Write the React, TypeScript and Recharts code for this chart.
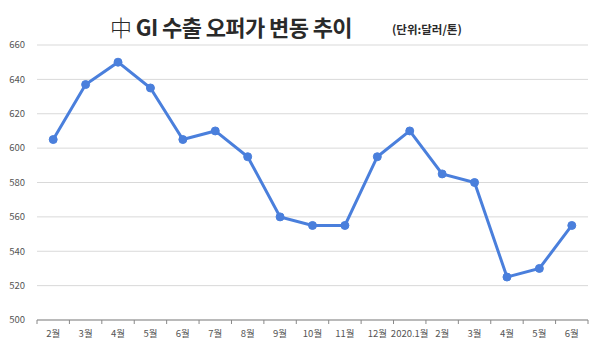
import React from 'react';
import { LineChart, Line, XAxis, YAxis, CartesianGrid } from 'recharts';

const categories = ['2월', '3월', '4월', '5월', '6월', '7월', '8월', '9월', '10월', '11월', '12월', '2020.1월', '2월', '3월', '4월', '5월', '6월'];
const prices = [605, 637, 650, 635, 605, 610, 595, 560, 555, 555, 595, 610, 585, 580, 525, 530, 555];
const yTicks = [500, 520, 540, 560, 580, 600, 620, 640, 660];

const data = categories.map((c, i) => ({ key: i, label: c, price: prices[i] }));

const W = 600;
const H = 351;
const M = { top: 45, right: 12, left: 0, bottom: 11 };
const Y_W = 37;
const BAND = (W - M.left - M.right - Y_W) / categories.length;
const FONT = '"Noto Sans CJK KR", "Noto Sans", sans-serif';

const XTick = (props: any) => {
  const { x, y, payload } = props;
  const isLast = payload.value === categories.length - 1;
  return (
    <g>
      <line x1={x - BAND / 2} x2={x - BAND / 2} y1={y - 8} y2={y - 4} stroke="#888" strokeWidth={1} />
      {isLast && (
        <line x1={x + BAND / 2} x2={x + BAND / 2} y1={y - 8} y2={y - 4} stroke="#888" strokeWidth={1} />
      )}
      <text x={x} y={y + 9} textAnchor="middle" fontSize={9.5} fill="#555" fontFamily={FONT}>
        {categories[payload.value]}
      </text>
    </g>
  );
};

export default function App() {
  return (
    <div style={{ position: 'absolute', left: 0, top: 0, width: W, height: H, background: '#fff', fontFamily: FONT }}>
      <div
        style={{
          position: 'absolute',
          left: 110,
          top: 9,
          fontSize: 22,
          fontWeight: 700,
          color: '#2a2a2a',
          whiteSpace: 'nowrap',
          lineHeight: '34px',
          letterSpacing: -0.6,
        }}
      >
        <span style={{ fontWeight: 300 }}>中</span> GI 수출 오퍼가 변동 추이
      </div>
      <div
        style={{
          position: 'absolute',
          left: 392,
          top: 19,
          fontSize: 11.5,
          fontWeight: 700,
          color: '#2a2a2a',
          whiteSpace: 'nowrap',
          lineHeight: '20px',
        }}
      >
        (단위:달러/톤)
      </div>
      <div style={{ position: 'absolute', left: 0, top: 0 }}>
        <LineChart width={W} height={H} data={data} margin={M}>
          <CartesianGrid vertical={false} stroke="#d9d9d9" strokeWidth={1} />
          <XAxis
            dataKey="key"
            type="category"
            height={20}
            padding={{ left: BAND / 2, right: BAND / 2 }}
            axisLine={{ stroke: '#888' }}
            tickLine={false}
            tick={<XTick />}
            interval={0}
          />
          <YAxis
            width={Y_W}
            domain={[500, 660]}
            ticks={yTicks}
            axisLine={false}
            tickLine={false}
            tickMargin={6}
            tick={{ fontSize: 9.5, fill: '#555', fontFamily: FONT }}
            interval={0}
          />
          <Line
            dataKey="price"
            stroke="#4a7fdc"
            strokeWidth={3}
            dot={{ r: 4, fill: '#4a7fdc', stroke: '#4a7fdc', strokeWidth: 1 }}
            isAnimationActive={false}
          />
        </LineChart>
      </div>
    </div>
  );
}
